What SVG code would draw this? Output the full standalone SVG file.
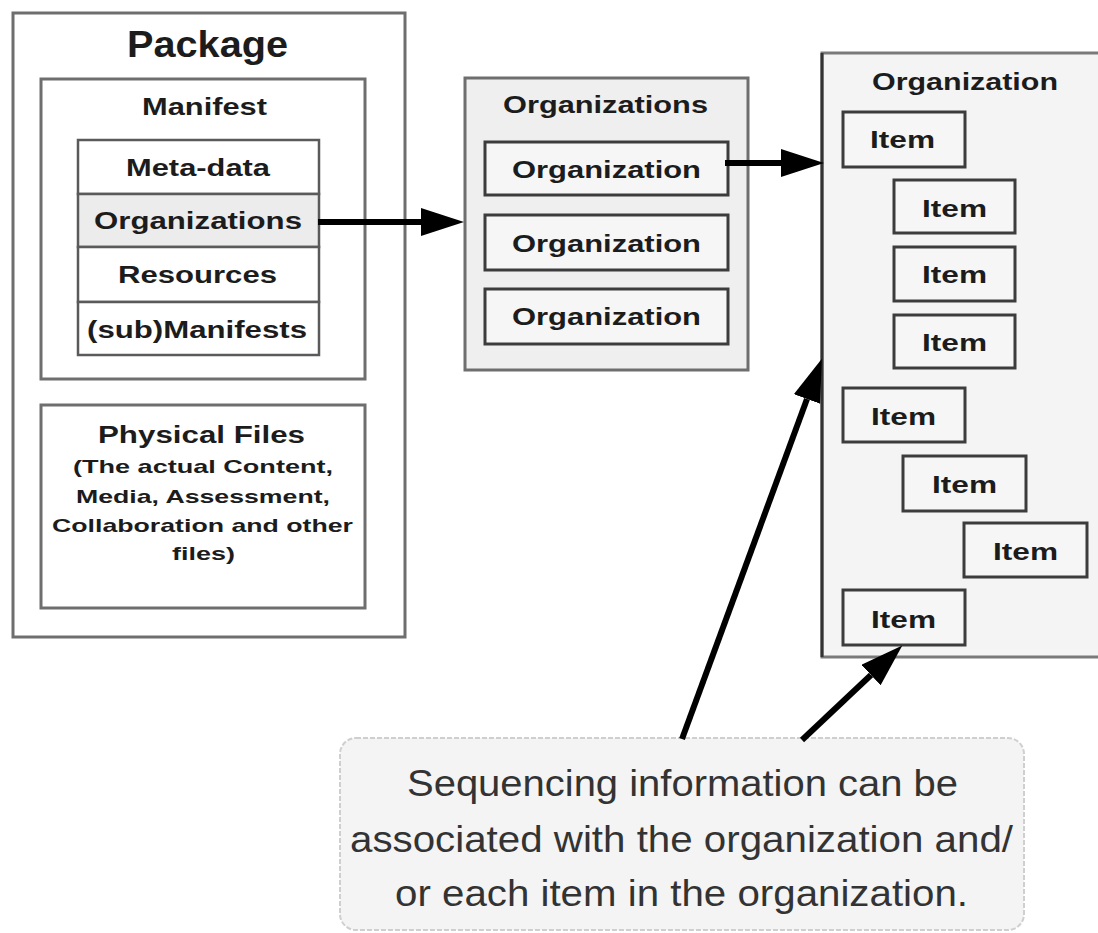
<svg xmlns="http://www.w3.org/2000/svg" width="1098" height="933" viewBox="0 0 1098 933">
  <style>
    .box { fill: #ffffff; stroke: #6e6e6e; stroke-width: 3; }
    .panel { fill: #efefef; stroke: #6e6e6e; stroke-width: 3; }
    .item { fill: #f6f6f6; stroke: #3c3c3c; stroke-width: 3; }
    .row { fill: #ffffff; stroke: #5a5a5a; stroke-width: 2.5; }
    .b { font-family: "Liberation Sans", Arial, sans-serif; font-weight: bold; fill: #1c1c1c; text-anchor: start; }
    .note { font-family: "Liberation Sans", Arial, sans-serif; fill: #333333; text-anchor: start; }
    .wire { stroke: #000000; stroke-width: 6; fill: none; }
  </style>
  <defs>
    <marker id="head" markerUnits="userSpaceOnUse" markerWidth="44" markerHeight="30" refX="0" refY="14" orient="auto">
      <path d="M0,0 L43,14 L0,28 z" fill="#000000"/>
    </marker>
  </defs>

  <rect width="1098" height="933" fill="#ffffff"/>

  <!-- Package container -->
  <g id="package">
    <rect class="box" x="13" y="13" width="392" height="624"/>
    <text class="b" x="127" y="57" font-size="36" textLength="161" lengthAdjust="spacingAndGlyphs">Package</text>
  </g>

  <!-- Manifest with its sections -->
  <g id="manifest">
    <rect class="box" x="41" y="79" width="324" height="300" stroke="#555555"/>
    <text class="b" x="142" y="115" font-size="24" textLength="125" lengthAdjust="spacingAndGlyphs">Manifest</text>
  </g>
  <g id="meta-data">
    <rect class="row" x="78" y="140" width="241" height="54"/>
    <text class="b" x="126" y="176" font-size="23" textLength="144" lengthAdjust="spacingAndGlyphs">Meta-data</text>
  </g>
  <g id="organizations-ref">
    <rect class="row" x="78" y="194" width="241" height="53" style="fill:#ececec"/>
    <text class="b" x="94" y="229" font-size="23" textLength="208" lengthAdjust="spacingAndGlyphs">Organizations</text>
  </g>
  <g id="resources">
    <rect class="row" x="78" y="247" width="241" height="55"/>
    <text class="b" x="118" y="283" font-size="23" textLength="159" lengthAdjust="spacingAndGlyphs">Resources</text>
  </g>
  <g id="sub-manifests">
    <rect class="row" x="78" y="302" width="241" height="53"/>
    <text class="b" x="87" y="338" font-size="23" textLength="220" lengthAdjust="spacingAndGlyphs">(sub)Manifests</text>
  </g>

  <!-- Physical files -->
  <g id="physical-files">
    <rect class="box" x="41" y="405" width="324" height="203" stroke="#555555"/>
    <text class="b" x="98" y="443" font-size="23" textLength="207" lengthAdjust="spacingAndGlyphs">Physical Files</text>
    <text class="b" x="73" y="473" font-size="19" textLength="260" lengthAdjust="spacingAndGlyphs">(The actual Content,</text>
    <text class="b" x="76" y="503" font-size="19" textLength="254" lengthAdjust="spacingAndGlyphs">Media, Assessment,</text>
    <text class="b" x="52" y="532" font-size="19" textLength="301" lengthAdjust="spacingAndGlyphs">Collaboration and other</text>
    <text class="b" x="172" y="560" font-size="19" textLength="63" lengthAdjust="spacingAndGlyphs">files)</text>
  </g>

  <!-- Organizations collection -->
  <g id="organizations">
    <rect class="panel" x="465" y="78" width="283" height="292"/>
    <text class="b" x="503" y="113" font-size="23" textLength="205" lengthAdjust="spacingAndGlyphs">Organizations</text>
  </g>
  <g id="organization-1">
    <rect class="item" x="485" y="142" width="243" height="53" stroke="#555555"/>
    <text class="b" x="512" y="178" font-size="24" textLength="189" lengthAdjust="spacingAndGlyphs">Organization</text>
  </g>
  <g id="organization-2">
    <rect class="item" x="485" y="215" width="243" height="55" stroke="#555555"/>
    <text class="b" x="512" y="252" font-size="24" textLength="189" lengthAdjust="spacingAndGlyphs">Organization</text>
  </g>
  <g id="organization-3">
    <rect class="item" x="485" y="289" width="243" height="55" stroke="#555555"/>
    <text class="b" x="512" y="325" font-size="24" textLength="189" lengthAdjust="spacingAndGlyphs">Organization</text>
  </g>

  <!-- Organization detail with items -->
  <g id="organization">
    <rect x="822" y="53" width="300" height="604" fill="#f4f4f4" stroke="#7a7a7a" stroke-width="3"/>
    <line x1="822" y1="53" x2="822" y2="657" stroke="#333333" stroke-width="3"/>
    <text class="b" x="872" y="90" font-size="23" textLength="186" lengthAdjust="spacingAndGlyphs">Organization</text>
  </g>
  <g id="item-1">
    <rect class="item" x="843" y="112" width="122" height="55"/>
    <text class="b" x="870" y="148" font-size="23" textLength="65" lengthAdjust="spacingAndGlyphs">Item</text>
  </g>
  <g id="item-2">
    <rect class="item" x="894" y="180" width="121" height="53"/>
    <text class="b" x="922" y="217" font-size="23" textLength="65" lengthAdjust="spacingAndGlyphs">Item</text>
  </g>
  <g id="item-3">
    <rect class="item" x="894" y="247" width="121" height="54"/>
    <text class="b" x="922" y="283" font-size="23" textLength="65" lengthAdjust="spacingAndGlyphs">Item</text>
  </g>
  <g id="item-4">
    <rect class="item" x="894" y="315" width="121" height="53"/>
    <text class="b" x="922" y="351" font-size="23" textLength="65" lengthAdjust="spacingAndGlyphs">Item</text>
  </g>
  <g id="item-5">
    <rect class="item" x="843" y="388" width="122" height="54"/>
    <text class="b" x="871" y="425" font-size="23" textLength="65" lengthAdjust="spacingAndGlyphs">Item</text>
  </g>
  <g id="item-6">
    <rect class="item" x="903" y="456" width="123" height="55"/>
    <text class="b" x="932" y="493" font-size="23" textLength="65" lengthAdjust="spacingAndGlyphs">Item</text>
  </g>
  <g id="item-7">
    <rect class="item" x="964" y="523" width="123" height="54"/>
    <text class="b" x="993" y="560" font-size="23" textLength="65" lengthAdjust="spacingAndGlyphs">Item</text>
  </g>
  <g id="item-8">
    <rect class="item" x="843" y="590" width="122" height="55"/>
    <text class="b" x="871" y="628" font-size="23" textLength="65" lengthAdjust="spacingAndGlyphs">Item</text>
  </g>

  <!-- Sequencing note -->
  <g id="sequencing-note">
    <rect x="340" y="738" width="684" height="192" rx="16" ry="16" fill="#f4f4f4" stroke="#cfcfcf" stroke-width="2" stroke-dasharray="5 2"/>
    <text class="note" x="407" y="796" font-size="36" textLength="551" lengthAdjust="spacingAndGlyphs">Sequencing information can be</text>
    <text class="note" x="350" y="852" font-size="36" textLength="663" lengthAdjust="spacingAndGlyphs">associated with the organization and/</text>
    <text class="note" x="395" y="906" font-size="36" textLength="573" lengthAdjust="spacingAndGlyphs">or each item in the organization.</text>
  </g>

  <!-- Connectors -->
  <g id="connectors">
    <line class="wire" x1="318" y1="222" x2="421" y2="222" marker-end="url(#head)"/>
    <line class="wire" x1="725" y1="163" x2="781" y2="163" marker-end="url(#head)"/>
    <line class="wire" x1="682" y1="739" x2="807" y2="399" marker-end="url(#head)"/>
    <line class="wire" x1="802" y1="740" x2="871" y2="675" marker-end="url(#head)"/>
  </g>
</svg>
